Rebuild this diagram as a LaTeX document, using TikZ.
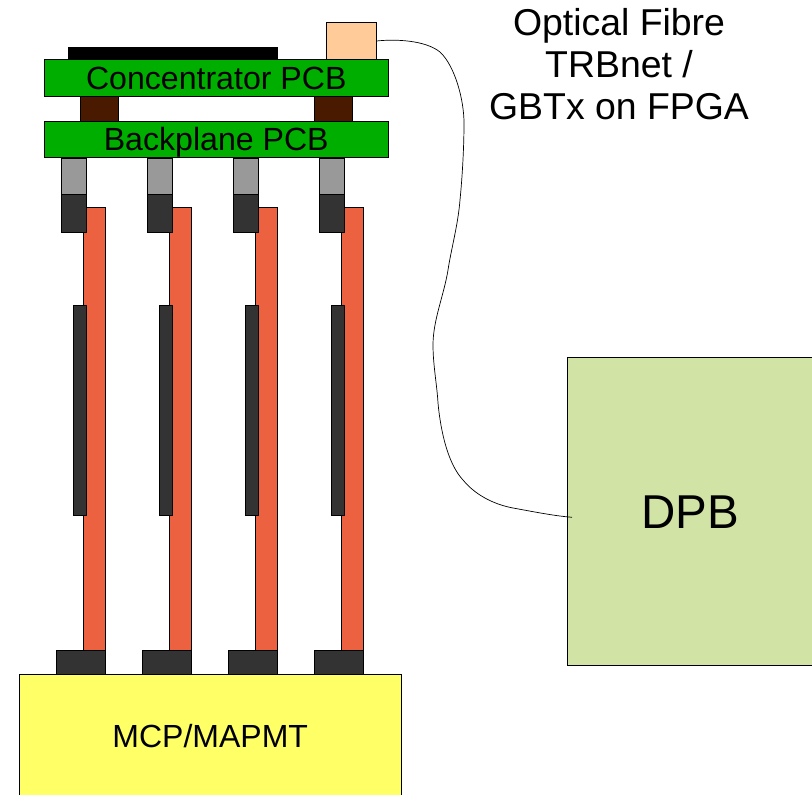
\documentclass[tikz,border=0pt]{standalone}
\usepackage{fontspec}
\setmainfont{Liberation Sans}
\definecolor{pcbgreen}{HTML}{00AE00}
\definecolor{spacerbrown}{HTML}{4A1A00}
\definecolor{conngray}{HTML}{999999}
\definecolor{conndark}{HTML}{333333}
\definecolor{flexred}{HTML}{EC6240}
\definecolor{mapmtyellow}{HTML}{FFFF66}
\definecolor{dpbgreen}{HTML}{D2E4A5}
\definecolor{peach}{HTML}{FFCC99}
\begin{document}
\begin{tikzpicture}[x=1pt,y=-1pt,
  blockbox/.style={draw=black,line width=0.9pt,inner sep=0pt,outer sep=0pt,text depth=0pt},
  pcb/.style={blockbox,fill=pcbgreen,minimum width=344.5pt,minimum height=36.5pt,
    text height=23.4pt,font=\fontsize{32.1}{32}\selectfont},
  spacer/.style={blockbox,fill=spacerbrown,minimum width=37.5pt,minimum height=25pt},
  graybox/.style={blockbox,fill=conngray,minimum width=24.5pt,minimum height=36.5pt},
  darkbox/.style={blockbox,fill=conndark,minimum width=24.5pt,minimum height=37.5pt},
  flexbox/.style={blockbox,fill=flexred,minimum width=22.5pt,minimum height=443pt},
  chipbox/.style={blockbox,fill=conndark,minimum width=12.5pt,minimum height=210pt},
  footbox/.style={blockbox,fill=conndark,minimum width=49.5pt,minimum height=24.5pt},
  fibre/.style={black,line width=0.7pt}]
\useasboundingbox (0,0) rectangle (812,795);
% Top of the stack
\node[blockbox,fill=black,anchor=north west,minimum width=209.5pt,minimum height=12.5pt] (asic) at (68,47) {};
\node[blockbox,fill=peach,anchor=north west,minimum width=50pt,minimum height=37pt] (sfp) at (326.5,22.5) {};
\node[spacer,anchor=north west] (spacerL) at (80.5,96) {};
\node[spacer,anchor=north west] (spacerR) at (314.5,96) {};
\node[pcb,anchor=north west] (conc) at (44,59.5) {Concentrator PCB};
\node[pcb,anchor=north west] (back) at (44,121) {Backplane PCB};
% Four readout columns
\foreach \i/\dx in {1/0,2/86,3/172,4/258}{
  \node[flexbox,anchor=north west] (flex\i) at (83+\dx,207) {};
  \node[graybox,anchor=north west] (gray\i) at (61.5+\dx,158) {};
  \node[darkbox,anchor=north west] (dark\i) at (61.5+\dx,194.5) {};
  \node[chipbox,anchor=north west] (chip\i) at (73.5+\dx,305) {};
  \node[footbox,anchor=north west] (foot\i) at (56+\dx,650) {};
}
\node[blockbox,fill=mapmtyellow,anchor=north west,minimum width=381.5pt,minimum height=122pt,
  text height=23.4pt,font=\fontsize{32}{32}\selectfont] (mcp) at (19.5,674.5) {MCP/MAPMT};
\node[blockbox,fill=dpbgreen,anchor=north west,minimum width=245.5pt,minimum height=307.5pt,
  text height=34pt,font=\fontsize{47.5}{47.5}\selectfont] (dpb) at (567.5,357.5) {DPB};
\node[align=center,inner sep=0pt,anchor=north,font=\fontsize{37.4}{42}\selectfont] (label) at (619,8.5)
  {Optical Fibre\\TRBnet /\\GBTx on FPGA};
% Fibre
\coordinate (fibreEnd) at ([xshift=4.5pt,yshift=-6pt]dpb.west);
\draw[fibre] (sfp.east) .. controls (395,39) and (425,40) .. (440,52)
  .. controls (455,66) and (464,100) .. (464,123)
  .. controls (464,150) and (462,180) .. (460,200)
  .. controls (458,225) and (451,250) .. (448,270)
  .. controls (444,295) and (433,320) .. (433,345)
  .. controls (433,365) and (437,385) .. (438,403)
  .. controls (441,435) and (449,465) .. (463,480)
  .. controls (477,497) and (497,505) .. (513,508)
  .. controls (535,512) and (555,516) .. (fibreEnd);
\end{tikzpicture}
\end{document}
